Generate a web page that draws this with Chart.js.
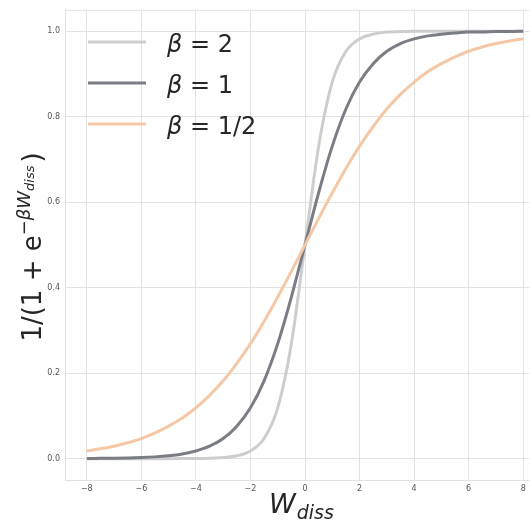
<!DOCTYPE html>
<html>
<head>
<meta charset="utf-8">
<script src="https://cdn.jsdelivr.net/npm/chart.js@4.4.1/dist/chart.umd.min.js"></script>
<style>
  html, body { margin: 0; padding: 0; background: #fff; overflow: hidden; }
  #wrap { position: relative; width: 545px; height: 526px; }
</style>
</head>
<body>
<div id="wrap"><canvas id="sigmoidChart"></canvas></div>
<script>
// dissipated work, sampled every 0.5
const wDiss = [-8, -7.5, -7, -6.5, -6, -5.5, -5, -4.5, -4, -3.5, -3, -2.5, -2, -1.5, -1, -0.5,
  0, 0.5, 1, 1.5, 2, 2.5, 3, 3.5, 4, 4.5, 5, 5.5, 6, 6.5, 7, 7.5, 8];

const beta2 = [0, 0, 0, 0, 0, 0, 0, 0.0001, 0.0003, 0.0009, 0.0025, 0.0067, 0.018, 0.047, 0.119, 0.269,
  0.5, 0.731, 0.881, 0.953, 0.982, 0.993, 0.998, 0.999, 1, 1, 1, 1, 1, 1, 1, 1, 1];

const beta1 = [0.0003, 0.0006, 0.0009, 0.0015, 0.0025, 0.0041, 0.0067, 0.011, 0.018, 0.029, 0.047, 0.076, 0.119, 0.182, 0.269, 0.378,
  0.5, 0.622, 0.731, 0.818, 0.881, 0.924, 0.953, 0.971, 0.982, 0.989, 0.993, 0.996, 0.998, 0.998, 0.999, 0.999, 1];

const betaHalf = [0.018, 0.023, 0.029, 0.037, 0.047, 0.060, 0.076, 0.095, 0.119, 0.148, 0.182, 0.223, 0.269, 0.321, 0.378, 0.438,
  0.5, 0.562, 0.622, 0.679, 0.731, 0.777, 0.818, 0.852, 0.881, 0.905, 0.924, 0.940, 0.953, 0.963, 0.971, 0.977, 0.982];

const seriesLabels = ['β = 2', 'β = 1', 'β = 1/2'];
const seriesColors = ['#cdcdcd', '#7b7d85', '#f4c8a6'];

const xTicks = [-8, -6, -4, -2, 0, 2, 4, 6, 8];
const yTicks = [0, 0.2, 0.4, 0.6, 0.8, 1.0];

const gridColor = '#e2e2e2';
const mathFont = "'DejaVu Sans'";

function points(ys) {
  return wDiss.map((w, i) => ({ x: w, y: ys[i] }));
}

// axis titles, legend and top spine are drawn by hand (mathtext style)
const decorations = {
  id: 'decorations',
  afterDraw(chart) {
    const ctx = chart.ctx;
    const area = chart.chartArea;
    ctx.save();

    // top spine
    ctx.strokeStyle = gridColor;
    ctx.lineWidth = 1;
    ctx.beginPath();
    ctx.moveTo(area.left, area.top + 0.5);
    ctx.lineTo(area.right, area.top + 0.5);
    ctx.stroke();

    // legend
    chart.data.datasets.forEach((ds, i) => {
      const y = 42 + 41 * i;
      ctx.strokeStyle = ds.borderColor;
      ctx.lineWidth = 3;
      ctx.beginPath();
      ctx.moveTo(88, y);
      ctx.lineTo(146, y);
      ctx.stroke();

      ctx.fillStyle = '#262626';
      ctx.textBaseline = 'alphabetic';
      ctx.textAlign = 'left';
      ctx.font = 'italic 24px ' + mathFont;
      const head = ds.label.slice(0, 1);
      ctx.fillText(head, 167, y + 10);
      const hw = ctx.measureText(head).width;
      ctx.font = '24px ' + mathFont;
      ctx.fillText(ds.label.slice(1), 167 + hw, y + 10);
    });

    // x title: W_diss
    ctx.fillStyle = '#262626';
    ctx.font = 'italic 27px ' + mathFont;
    const wW = ctx.measureText('W').width;
    ctx.font = 'italic 19px ' + mathFont;
    const dW = ctx.measureText('diss').width;
    const xStart = 301 - (wW + dW) / 2;
    ctx.font = 'italic 27px ' + mathFont;
    ctx.fillText('W', xStart, 513);
    ctx.font = 'italic 19px ' + mathFont;
    ctx.fillText('diss', xStart + wW + 1, 519);

    // y title: 1/(1 + e^{-beta W_diss})
    const parts = [
      { t: '1/(1 + e', f: '26px ', dy: 0 },
      { t: '\u2212', f: '18px ', dy: -11 },
      { t: 'βW', f: 'italic 18px ', dy: -11 },
      { t: 'diss', f: 'italic 13px ', dy: -7 },
      { t: ')', f: '26px ', dy: 0, gap: 3 }
    ];
    let total = 0;
    parts.forEach(p => {
      ctx.font = p.f + mathFont;
      p.w = ctx.measureText(p.t).width;
      total += p.w + (p.gap || 0);
    });
    ctx.translate(41, 247);
    ctx.rotate(-Math.PI / 2);
    let cx = -total / 2;
    parts.forEach(p => {
      cx += p.gap || 0;
      ctx.font = p.f + mathFont;
      ctx.fillText(p.t, cx, p.dy);
      cx += p.w;
    });

    ctx.restore();
  }
};

const ctx = document.getElementById('sigmoidChart');

new Chart(ctx, {
  type: 'line',
  data: {
    datasets: [
      { label: seriesLabels[0], data: points(beta2), borderColor: seriesColors[0], order: 3 },
      { label: seriesLabels[1], data: points(beta1), borderColor: seriesColors[1], order: 2 },
      { label: seriesLabels[2], data: points(betaHalf), borderColor: seriesColors[2], order: 1 }
    ]
  },
  options: {
    responsive: true,
    maintainAspectRatio: false,
    animation: false,
    layout: { padding: { top: 7, right: 0, left: 0, bottom: 0 } },
    elements: {
      line: { borderWidth: 3, cubicInterpolationMode: 'monotone', fill: false },
      point: { radius: 0, hoverRadius: 0 }
    },
    plugins: {
      legend: { display: false },
      tooltip: { enabled: false }
    },
    scales: {
      x: {
        type: 'linear',
        min: -8.8,
        max: 8.8,
        afterBuildTicks: s => { s.ticks = xTicks.map(v => ({ value: v })); },
        afterFit: s => { s.height = 46; },
        ticks: {
          padding: 4,
          color: '#555',
          font: { family: 'DejaVu Sans', size: 8 },
          callback: v => String(v).replace('-', '\u2212')
        },
        grid: { color: gridColor, drawTicks: false },
        border: { color: gridColor }
      },
      y: {
        type: 'linear',
        min: -0.05,
        max: 1.05,
        afterBuildTicks: s => { s.ticks = yTicks.map(v => ({ value: v })); },
        afterFit: s => { s.width = 65; },
        ticks: {
          padding: 5,
          color: '#555',
          font: { family: 'DejaVu Sans', size: 8 },
          callback: v => Number(v).toFixed(1)
        },
        grid: { color: gridColor, drawTicks: false },
        border: { color: gridColor }
      }
    }
  },
  plugins: [decorations]
});
</script>
</body>
</html>
